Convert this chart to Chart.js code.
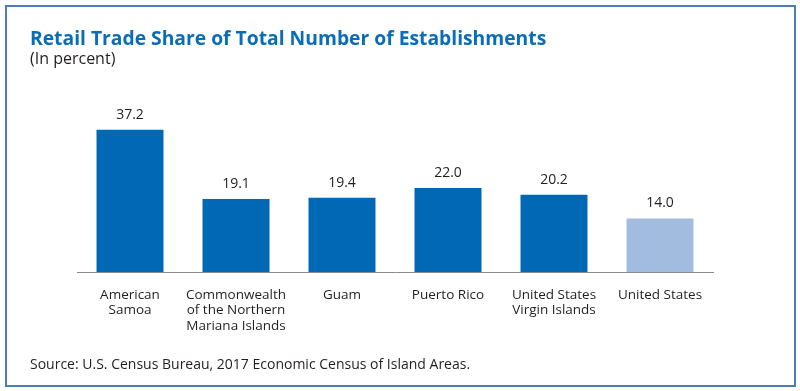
<!DOCTYPE html>
<html>
<head>
<meta charset="utf-8">
<script src="https://cdn.jsdelivr.net/npm/chart.js@4/dist/chart.umd.min.js"></script>
<style>
    body { margin: 0; background: #fff; }
    #wrap { position: relative; width: 800px; height: 391px; }
    #frame {
        position: absolute; left: 5px; top: 5px; width: 791px; height: 382px;
        box-sizing: border-box; border: 2px solid #4d7db8; pointer-events: none;
    }
</style>
</head>
<body>
<div id="wrap">
    <canvas id="chart" width="800" height="391"></canvas>
    <div id="frame"></div>
</div>
<script>
const FONT = "'Open Sans', 'DejaVu Sans', sans-serif";

const categories = [
    ["American", "Samoa"],
    ["Commonwealth", "of the Northern", "Mariana Islands"],
    "Guam",
    "Puerto Rico",
    ["United States", "Virgin Islands"],
    "United States"
];
const shares = [37.2, 19.1, 19.4, 22.0, 20.2, 14.0];
const barColors = ["#0068b4", "#0068b4", "#0068b4", "#0068b4", "#0068b4", "#a2bce0"];

const titleText = "Retail Trade Share of Total Number of Establishments";
const subtitleText = "(In percent)";
const sourceText = "Source: U.S. Census Bureau, 2017 Economic Census of Island Areas.";

// value labels above the bars + source note
const labelsPlugin = {
    id: "labels",
    afterDatasetsDraw(chart) {
        const ctx = chart.ctx;
        const meta = chart.getDatasetMeta(0);
        ctx.save();
        ctx.font = "14px " + FONT;
        ctx.fillStyle = "#231f20";
        ctx.textAlign = "center";
        ctx.textBaseline = "alphabetic";
        meta.data.forEach((bar, i) => {
            ctx.fillText(shares[i].toFixed(1), bar.x, bar.y - 11);
        });
        ctx.textAlign = "left";
        ctx.fillText(sourceText, 30, 369);
        ctx.restore();
    }
};

new Chart(document.getElementById("chart"), {
    type: "bar",
    data: {
        labels: categories,
        datasets: [{
            data: shares,
            backgroundColor: barColors,
            barPercentage: 0.632,
            categoryPercentage: 1
        }]
    },
    options: {
        responsive: false,
        animation: false,
        layout: { padding: { left: 30, right: 87, top: 0, bottom: 59 } },
        plugins: {
            legend: { display: false },
            tooltip: { enabled: false },
            title: {
                display: true,
                text: titleText,
                align: "start",
                color: "#0a6db6",
                font: { family: FONT, size: 19.3, weight: "bold", lineHeight: 1 },
                padding: { top: 30, bottom: 0 }
            },
            subtitle: {
                display: true,
                text: subtitleText,
                align: "start",
                color: "#231f20",
                font: { family: FONT, size: 16, lineHeight: 1 },
                padding: { top: 2, bottom: 32.7 }
            }
        },
        scales: {
            x: {
                grid: { display: false },
                border: { display: true, color: "#8a8a8a", width: 1 },
                ticks: {
                    color: "#231f20",
                    font: { family: FONT, size: 13.5, lineHeight: 1.15 },
                    padding: 7,
                    maxRotation: 0,
                    autoSkip: false
                },
                afterFit(scale) { scale.height = 60; }
            },
            y: {
                min: 0,
                max: 45,
                grid: { display: false },
                border: { display: false },
                ticks: { display: false },
                afterFit(scale) { scale.width = 47; }
            }
        }
    },
    plugins: [labelsPlugin]
});
</script>
</body>
</html>
